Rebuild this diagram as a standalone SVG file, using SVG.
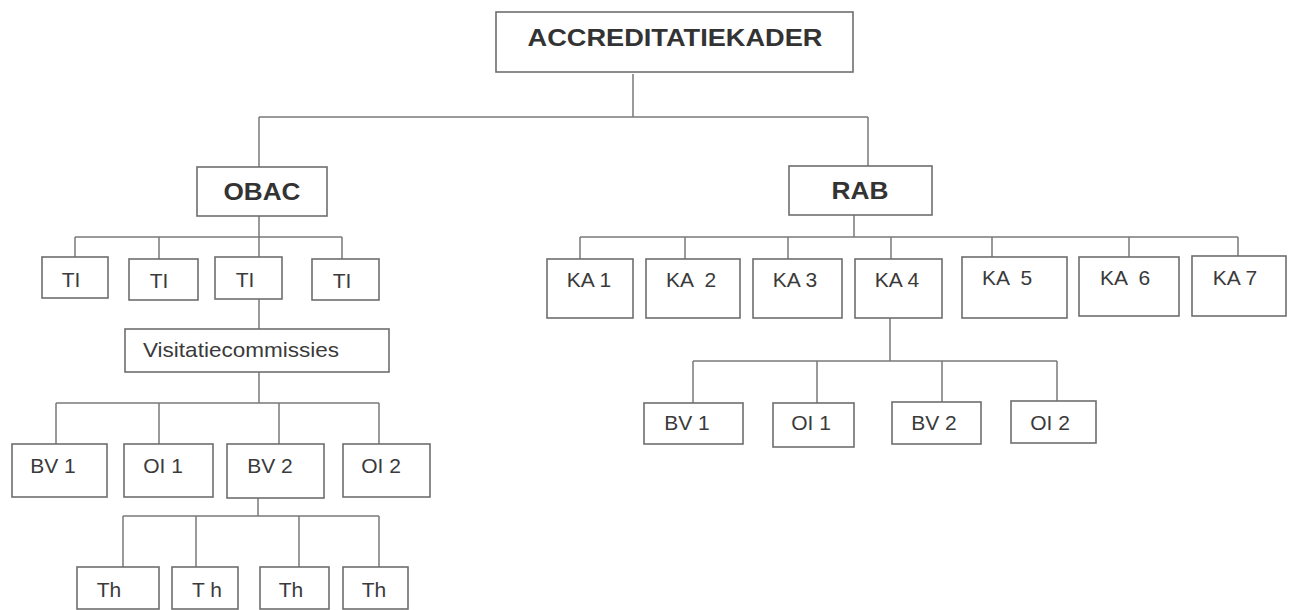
<svg xmlns="http://www.w3.org/2000/svg" width="1293" height="610" viewBox="0 0 1293 610">
<style>
.box{fill:#fff;stroke:#6e6e6e;stroke-width:1.6}
.ln{fill:none;stroke:#7a7a7a;stroke-width:1.5}
text{font-family:"Liberation Sans",Arial,sans-serif;fill:#3a3a3a;text-anchor:middle}
.b{font-weight:bold;fill:#333}
.t{font-size:21px}
</style>
<rect width="1293" height="610" fill="#fff"/>
<g id="connectors">
<path class="ln" d="M633 74V117M259 117H868M259 117V167M868 117V166"/>
<path class="ln" d="M259 216V257M75 237H342M75 237V257M159 237V259M342 237V259M259 299V329M259 372V403M56 403H379M56 403V444M159 403V444M279 403V444M379 403V444M258 498V516M123 516H379M123 516V567M196 516V567M299 516V567M379 516V567"/>
<path class="ln" d="M854 215V237M580 237H1238M580 237V259M685 237V259M788 237V259M891 237V259M992 237V257M1129 237V257M1238 237V256M890 318V361M693 361H1057M693 361V403M817 361V403M942 361V402M1057 361V401"/>
</g>
<g id="accreditatiekader"><rect class="box" x="496" y="12" width="357" height="60"/><text class="b" x="675" y="46" font-size="23" textLength="295" lengthAdjust="spacingAndGlyphs">ACCREDITATIEKADER</text></g>
<g id="obac"><rect class="box" x="197" y="167" width="130" height="49"/><text class="b" x="262" y="200" font-size="24" textLength="77" lengthAdjust="spacingAndGlyphs">OBAC</text></g>
<g id="rab"><rect class="box" x="789" y="166" width="143" height="49"/><text class="b" x="860" y="199" font-size="24" textLength="57" lengthAdjust="spacingAndGlyphs">RAB</text></g>
<g id="ti1"><rect class="box" x="42" y="257" width="66" height="41"/><text class="t" x="71" y="287">TI</text></g>
<g id="ti2"><rect class="box" x="129" y="259" width="69" height="41"/><text class="t" x="159" y="288">TI</text></g>
<g id="ti3"><rect class="box" x="215" y="257" width="67" height="42"/><text class="t" x="245" y="287">TI</text></g>
<g id="ti4"><rect class="box" x="312" y="259" width="67" height="41"/><text class="t" x="342" y="288">TI</text></g>
<g id="visitatiecommissies"><rect class="box" x="125" y="329" width="264" height="43"/><text x="241" y="357" font-size="21" textLength="196" lengthAdjust="spacingAndGlyphs">Visitatiecommissies</text></g>
<g id="bv1-l"><rect class="box" x="12" y="444" width="95" height="53"/><text class="t" x="53" y="473">BV 1</text></g>
<g id="oi1-l"><rect class="box" x="124" y="444" width="89" height="53"/><text class="t" x="163" y="473">OI 1</text></g>
<g id="bv2-l"><rect class="box" x="227" y="444" width="97" height="54"/><text class="t" x="270" y="473">BV 2</text></g>
<g id="oi2-l"><rect class="box" x="343" y="444" width="87" height="53"/><text class="t" x="381" y="473">OI 2</text></g>
<g id="th1"><rect class="box" x="77" y="567" width="82" height="42"/><text class="t" x="109" y="597">Th</text></g>
<g id="th2"><rect class="box" x="172" y="567" width="66" height="42"/><text class="t" x="207" y="597">T h</text></g>
<g id="th3"><rect class="box" x="260" y="567" width="69" height="42"/><text class="t" x="291" y="597">Th</text></g>
<g id="th4"><rect class="box" x="343" y="567" width="65" height="42"/><text class="t" x="374" y="597">Th</text></g>
<g id="ka1"><rect class="box" x="547" y="259" width="86" height="59"/><text class="t" x="589" y="287">KA 1</text></g>
<g id="ka2"><rect class="box" x="646" y="259" width="94" height="59"/><text class="t" x="691" y="287" xml:space="preserve">KA  2</text></g>
<g id="ka3"><rect class="box" x="753" y="259" width="89" height="59"/><text class="t" x="795" y="287">KA 3</text></g>
<g id="ka4"><rect class="box" x="855" y="259" width="87" height="59"/><text class="t" x="897" y="287">KA 4</text></g>
<g id="ka5"><rect class="box" x="962" y="257" width="105" height="61"/><text class="t" x="1007" y="285" xml:space="preserve">KA  5</text></g>
<g id="ka6"><rect class="box" x="1079" y="257" width="100" height="59"/><text class="t" x="1125" y="285" xml:space="preserve">KA  6</text></g>
<g id="ka7"><rect class="box" x="1192" y="256" width="94" height="60"/><text class="t" x="1235" y="285">KA 7</text></g>
<g id="bv1-r"><rect class="box" x="644" y="403" width="99" height="41"/><text class="t" x="687" y="430">BV 1</text></g>
<g id="oi1-r"><rect class="box" x="773" y="403" width="81" height="44"/><text class="t" x="811" y="430">OI 1</text></g>
<g id="bv2-r"><rect class="box" x="892" y="402" width="89" height="42"/><text class="t" x="934" y="430">BV 2</text></g>
<g id="oi2-r"><rect class="box" x="1011" y="401" width="85" height="42"/><text class="t" x="1050" y="430">OI 2</text></g>
</svg>
